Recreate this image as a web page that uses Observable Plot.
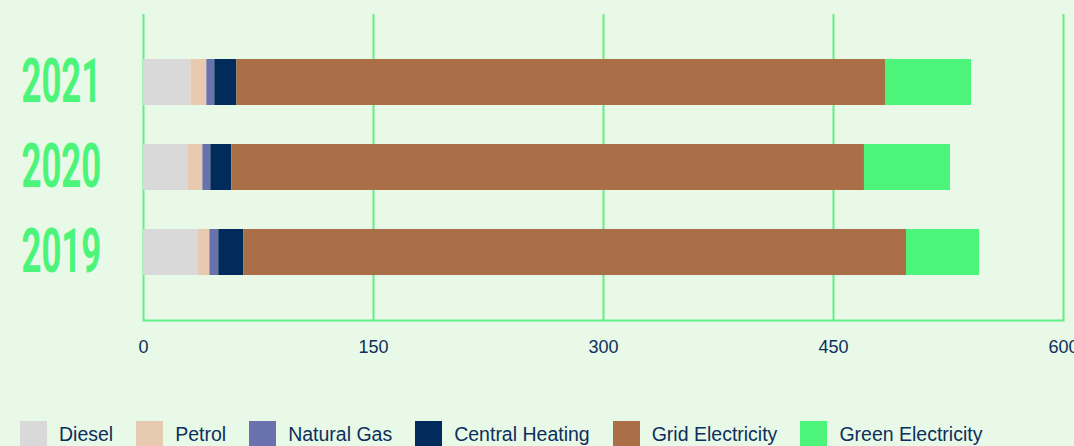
<!DOCTYPE html>
<html>
<head>
<meta charset="utf-8">
<script src="https://cdn.jsdelivr.net/npm/d3@7"></script>
<script src="https://cdn.jsdelivr.net/npm/@observablehq/plot@0.6"></script>
<style>
  html, body { margin: 0; padding: 0; background: #e8f9e7; overflow: hidden; }
  #chart svg { display: block; background: #e8f9e7; }
  .legend { display: flex; align-items: center; padding-left: 20px; margin-top: 21px;
            font-family: "Liberation Sans", Arial, sans-serif; font-size: 19.5px; color: #0d2f5c; }
  .legend .item { display: flex; align-items: center; margin-right: 23px; }
  .legend .sw { width: 27px; height: 27px; margin-right: 12px; }
</style>
</head>
<body>
<div id="chart"></div>
<script>
const years = ["2021", "2020", "2019"];
const categories = ["Diesel", "Petrol", "Natural Gas", "Central Heating", "Grid Electricity", "Green Electricity"];
const colors = ["#d9d9d9", "#e8cab1", "#6a72ae", "#002b5a", "#ab6f47", "#4cf57a"];
const values2021 = [30.9, 10.4, 5.2, 14.4, 423.0, 56.1];
const values2020 = [28.9, 9.8, 5.2, 13.7, 412.6, 56.1];
const values2019 = [35.4, 7.9, 5.8, 16.4, 432.1, 47.7];
const xTicks = [0, 150, 300, 450, 600];

const series = {"2021": values2021, "2020": values2020, "2019": values2019};
const data = [];
for (const y of years) {
  categories.forEach((c, i) => data.push({year: y, type: c, value: series[y][i]}));
}

const gridColor = "#62ef84";
const plot = Plot.plot({
  width: 1074,
  height: 400,
  marginLeft: 143,
  marginRight: 11,
  marginTop: 14,
  marginBottom: 80,
  style: {background: "#e8f9e7", fontFamily: "'Liberation Sans', Arial, sans-serif"},
  x: {domain: [0, 600], ticks: xTicks, label: null},
  y: {domain: years, paddingInner: 0.46, paddingOuter: 0.53, label: null, axis: null},
  color: {domain: categories, range: colors},
  marks: [
    Plot.ruleX(xTicks, {stroke: gridColor, strokeWidth: 2}),
    Plot.frame({anchor: "bottom", stroke: gridColor, strokeWidth: 2}),
    Plot.barX(data, Plot.stackX({x: "value", y: "year", fill: "type", order: null})),
    Plot.axisX({ticks: xTicks, tickSize: 0, tickPadding: 20, fontSize: 18, color: "#0d2f5c", label: null}),
    Plot.text(years, {y: d => d, text: d => d, frameAnchor: "left", textAnchor: "start", dx: -122,
      fontSize: 62, fontWeight: 700, fontFamily: "Roboto", fill: "#4cf57a"})
  ]
});

// condense the year labels horizontally
plot.querySelectorAll('g[aria-label="text"] text').forEach(t => {
  const tr = t.getAttribute("transform") || "";
  t.setAttribute("transform", tr + " scale(0.56,1)");
});

document.getElementById("chart").appendChild(plot);

const legend = document.createElement("div");
legend.className = "legend";
categories.forEach((c, i) => {
  const item = document.createElement("div");
  item.className = "item";
  const sw = document.createElement("span");
  sw.className = "sw";
  sw.style.background = colors[i];
  const lab = document.createElement("span");
  lab.textContent = c;
  item.appendChild(sw);
  item.appendChild(lab);
  legend.appendChild(item);
});
document.getElementById("chart").appendChild(legend);
</script>
</body>
</html>
